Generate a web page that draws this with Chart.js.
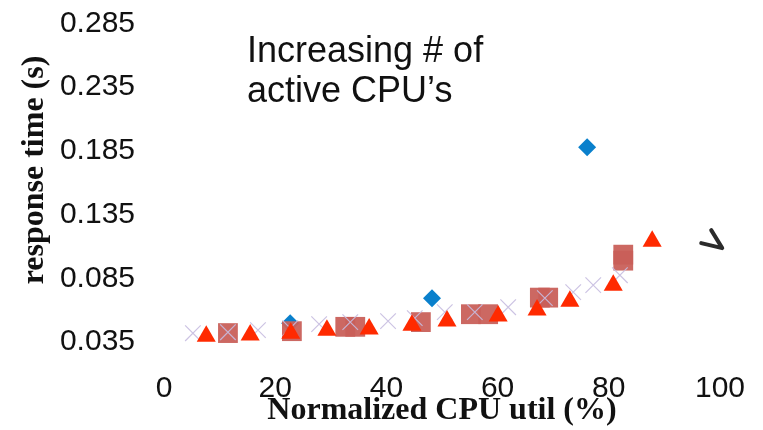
<!DOCTYPE html>
<html lang="en">
<head>
    <meta charset="UTF-8">
    <title>Response time vs CPU util</title>
    <script src="https://cdn.jsdelivr.net/npm/chart.js"></script>
    <style>
        body { margin: 0; background: #fff; }
        #wrap { width: 763px; height: 430px; }
    </style>
</head>
<body>
    <div id="wrap"><canvas id="myChart" width="763" height="430"></canvas></div>

    <script>
        // tick values
        const xTicks = [0, 20, 40, 60, 80, 100];
        const yTicks = [0.035, 0.085, 0.135, 0.185, 0.235, 0.285];

        // red triangles
        const triX = [7.6, 15.5, 22.8, 29.3, 36.9, 44.6, 50.9, 60.1, 67.1, 73.0, 80.8, 87.8];
        const triY = [0.0397, 0.0405, 0.0420, 0.0444, 0.0452, 0.0483, 0.0515, 0.0554, 0.0601, 0.0671, 0.0797, 0.1142];

        // light purple crosses
        const crossX = [5.2, 11.5, 16.9, 22.7, 27.9, 33.5, 40.3, 45.1, 50.5, 55.9, 61.9, 68.5, 73.6, 77.2, 82.0];
        const crossY = [0.0420, 0.0428, 0.0444, 0.0460, 0.0491, 0.0507, 0.0515, 0.0538, 0.0585, 0.0585, 0.0624, 0.0695, 0.0742, 0.0797, 0.0875];

        // brownish squares
        const sqX = [11.5, 23.0, 32.6, 34.4, 46.2, 55.2, 58.3, 67.6, 69.1, 82.6, 82.6];
        const sqY = [0.0421, 0.0436, 0.0470, 0.0470, 0.0507, 0.0569, 0.0569, 0.0699, 0.0699, 0.1036, 0.0989];

        // blue diamonds
        const diaX = [22.7, 48.2, 76.1];
        const diaY = [0.0499, 0.0695, 0.1878];

        // tip of the arrow fragment at the right
        const arrowTip = { x: 100.4, y: 0.1087 };

        const note = ['Increasing # of', 'active CPU\u2019s'];
        const yTitle = 'response time (s)';
        const xTitle = 'Normalized CPU util (%)';

        function pts(xs, ys) {
            return xs.map((v, i) => ({ x: v, y: ys[i] }));
        }

        const extras = {
            id: 'extras',
            afterDraw(chart) {
                const ctx = chart.ctx;
                const sx = chart.scales.x, sy = chart.scales.y;

                // annotation text
                ctx.save();
                ctx.fillStyle = '#111';
                ctx.font = '36px "Liberation Sans", Arial, sans-serif';
                ctx.textAlign = 'left';
                ctx.textBaseline = 'alphabetic';
                ctx.fillText(note[0], 247, 62);
                ctx.fillText(note[1], 247, 102);
                ctx.restore();

                // y axis title
                ctx.save();
                ctx.translate(35, 170);
                ctx.rotate(-Math.PI / 2);
                ctx.fillStyle = '#111';
                ctx.font = 'bold 32px "Liberation Serif", "Times New Roman", serif';
                ctx.textAlign = 'center';
                ctx.textBaseline = 'middle';
                ctx.fillText(yTitle, 0, 0);
                ctx.restore();

                // arrow head fragment
                const tx = sx.getPixelForValue(arrowTip.x);
                const ty = sy.getPixelForValue(arrowTip.y);
                ctx.save();
                ctx.strokeStyle = '#2b2b2b';
                ctx.lineWidth = 4;
                ctx.lineCap = 'round';
                ctx.lineJoin = 'round';
                ctx.beginPath();
                ctx.moveTo(tx - 11, ty - 18);
                ctx.lineTo(tx, ty);
                ctx.lineTo(tx - 21, ty - 5);
                ctx.stroke();
                ctx.restore();
            }
        };

        const tickFont = { family: '"Liberation Sans", Arial, sans-serif', size: 30, lineHeight: 1 };

        new Chart(document.getElementById('myChart'), {
            type: 'scatter',
            data: {
                datasets: [{
                    label: 'Series 4',
                    data: pts(triX, triY),
                    pointStyle: 'triangle',
                    pointRadius: 11,
                    backgroundColor: '#ff2a00',
                    borderColor: '#ff2a00',
                    borderWidth: 0
                }, {
                    label: 'Series 3',
                    data: pts(crossX, crossY),
                    pointStyle: 'crossRot',
                    pointRadius: 11,
                    borderColor: 'rgba(198,188,224,0.9)',
                    borderWidth: 1.2
                }, {
                    label: 'Series 2',
                    data: pts(sqX, sqY),
                    pointStyle: 'rect',
                    pointRadius: 14,
                    backgroundColor: 'rgba(201,96,90,0.95)',
                    borderWidth: 0
                }, {
                    label: 'Series 1',
                    data: pts(diaX, diaY),
                    pointStyle: 'rectRot',
                    pointRadius: 9,
                    backgroundColor: '#0a80cc',
                    borderWidth: 0
                }]
            },
            options: {
                responsive: false,
                animation: false,
                layout: { padding: { top: 17, right: 43, left: 0, bottom: 0 } },
                plugins: {
                    legend: { display: false },
                    tooltip: { enabled: false }
                },
                scales: {
                    x: {
                        type: 'linear',
                        min: 0,
                        max: 100,
                        grid: { display: false, drawTicks: false },
                        border: { display: false },
                        afterBuildTicks: s => { s.ticks = xTicks.map(v => ({ value: v })); },
                        afterFit: s => { s.height = 56; },
                        ticks: {
                            padding: 0,
                            color: '#111',
                            font: tickFont,
                            maxRotation: 0,
                            callback: v => String(v)
                        },
                        title: {
                            display: true,
                            text: xTitle,
                            color: '#111',
                            padding: { top: 0, bottom: 0 },
                            font: { family: '"Liberation Serif", "Times New Roman", serif', size: 32, weight: 'bold' }
                        }
                    },
                    y: {
                        type: 'linear',
                        min: 0.01,
                        max: 0.29,
                        grid: { display: false, drawTicks: false },
                        border: { display: false },
                        afterBuildTicks: s => { s.ticks = yTicks.map(v => ({ value: v })); },
                        afterFit: s => {
                            s.width = 164;
                            s.paddingTop = 0;
                            s.paddingBottom = 0;
                        },
                        ticks: {
                            padding: 29,
                            color: '#111',
                            font: tickFont,
                            callback: v => Number(v).toFixed(3)
                        }
                    }
                }
            },
            plugins: [extras]
        });
    </script>
</body>
</html>
